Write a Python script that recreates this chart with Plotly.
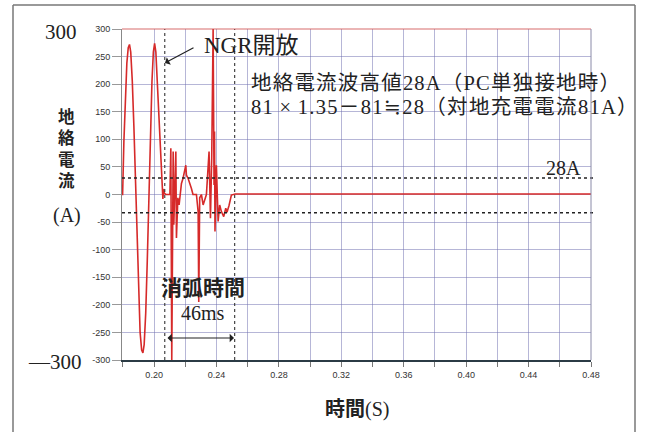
import plotly.graph_objects as go

# ---- data ----
time_s = [0.1794, 0.1798, 0.1806, 0.1815, 0.1825, 0.1834, 0.1842, 0.1850, 0.1860, 0.1870,
          0.1880, 0.1890, 0.1900, 0.1910, 0.1920, 0.1928, 0.1936, 0.1946, 0.1956, 0.1966,
          0.1976, 0.1986, 0.1995, 0.2003, 0.2011, 0.2022, 0.2033, 0.2042, 0.2050, 0.2056,
          0.2061, 0.2066, 0.2075, 0.2101, 0.2107, 0.2113, 0.2122, 0.2126, 0.2132, 0.2139,
          0.2143, 0.2152, 0.2160, 0.2175, 0.2185, 0.2196, 0.2203, 0.2207, 0.2218, 0.2239,
          0.2249, 0.2271, 0.2282, 0.2286, 0.2292, 0.2303, 0.2314, 0.2335, 0.2352, 0.2361,
          0.2369, 0.2378, 0.2384, 0.2387, 0.2390, 0.2399, 0.2410, 0.2420, 0.2431, 0.2446,
          0.2459, 0.2467, 0.2480, 0.2495, 0.2520, 0.3000, 0.3600, 0.4200, 0.4800]
current_a = [0, 0, 95, 180, 238, 266, 272, 258, 205, 125,
             30, -85, -185, -250, -282, -287, -272, -215, -120, -5,
             110, 205, 258, 274, 258, 195, 125, 60, 14, -8,
             10, 2, 0, 0, 84, -300, 78, -55, 5, 78,
             -79, -6, -19, 20, 29, 42, 53, 35, 29, 11,
             0, 0, -31, -195, -6, 0, -19, 0, 78, -43,
             66, 300, 17, 114, -67, 53, -49, -19, -31, -40,
             -25, -32, -20, -1, 1, 1, 1, 1, 1]

ref_levels = [30, -33]              # dotted reference lines (28A)
arc_start, arc_end = 0.2068, 0.2516  # 消弧時間 46ms

x_ticks = [0.18, 0.20, 0.22, 0.24, 0.26, 0.28, 0.30, 0.32, 0.34, 0.36, 0.38, 0.40, 0.42, 0.44, 0.46, 0.48]
x_labels = ["", "0.20", "", "0.24", "", "0.28", "", "0.32", "", "0.36", "", "0.40", "", "0.44", "", "0.48"]
y_ticks = [-300, -250, -200, -150, -100, -50, 0, 50, 100, 150, 200, 250, 300]
y_labels = ["-300", "-250", "-200", "-150", "-100", "-50", "0", "50", "100", "150", "200", "250", "300"]

W, H = 645, 432
L, R, T, B = 122, 54, 29, 72
PW, PH = W - L - R, H - T - B

def px(x):
    return (x - L) / PW

def py(y):
    return (H - B - y) / PH

SERIF = "Liberation Serif, Noto Sans CJK JP, DejaVu Serif"
GOTH = "Noto Sans CJK JP"
GOTH_STACK = "Liberation Sans, Noto Sans CJK JP"
GRID = "rgba(110,110,175,0.5)"

fig = go.Figure()
fig.add_trace(go.Scatter(x=time_s, y=current_a, mode="lines",
                         line=dict(color="#d62a2a", width=1.6), hoverinfo="skip",
                         showlegend=False))

shapes = []
for lv in ref_levels:
    shapes.append(dict(type="line", xref="paper", yref="y", x0=0, x1=px(595), y0=lv, y1=lv,
                       line=dict(color="#222", width=1.5, dash="dot")))
for tv in (arc_start, arc_end):
    shapes.append(dict(type="line", xref="x", yref="paper", x0=tv, x1=tv, y0=0, y1=1,
                       line=dict(color="#444", width=1.2, dash="dot")))
shapes.append(dict(type="line", xref="paper", yref="paper", x0=0, x1=1, y0=1, y1=1,
                   line=dict(color="rgba(205,70,70,0.8)", width=1.2)))
shapes.append(dict(type="line", xref="paper", yref="paper", x0=1, x1=1, y0=0, y1=1,
                   line=dict(color="#8a8aa8", width=1)))
frame = dict(color="#777", width=1.5)
shapes.append(dict(type="line", xref="paper", yref="paper", x0=px(13), x1=px(635), y0=py(5), y1=py(5), line=frame))
shapes.append(dict(type="line", xref="paper", yref="paper", x0=px(13), x1=px(13), y0=py(5), y1=py(440), line=frame))
shapes.append(dict(type="line", xref="paper", yref="paper", x0=px(635), x1=px(635), y0=py(5), y1=py(440), line=frame))

ann = []
def text(x, y, s, size, family=SERIF, xanchor="center", color="#222"):
    ann.append(dict(x=px(x), y=py(y), xref="paper", yref="paper", text=s, showarrow=False,
                    xanchor=xanchor, yanchor="middle",
                    font=dict(size=size, family=family, color=color)))

text(79, 32, "300", 21, xanchor="right")
text(84, 362, "—300", 21, xanchor="right")
text(66, 149, "<b>地<br>絡<br>電<br>流</b>", 16.5, family=GOTH_STACK)
text(67, 215, "(A)", 20)
text(202, 45, "NGR開放", 23, xanchor="left")
text(249, 83, '<span style="letter-spacing:1.2px">地絡電流波高値28A（PC単独接地時）</span>',
     20.5, xanchor="left")
text(249, 107, '<span style="letter-spacing:1.3px">81\u2009×\u20091.35－81≒28（対地充電電流81A）</span>',
     20.5, xanchor="left")
text(583, 168, "28A", 20, xanchor="right")
text(203, 286, "<b>消弧時間</b>", 21, family=GOTH)
text(203, 313, "46ms", 20)
text(357, 409, "<b>時間</b>(S)", 20)

ann.append(dict(x=px(165), y=py(63), xref="paper", yref="paper", ax=30, ay=-16, text="",
                showarrow=True, arrowhead=1, arrowsize=1.2, arrowwidth=1.2, arrowcolor="#222"))
ann.append(dict(x=px(234), y=py(338), xref="paper", yref="paper", ax=-68, ay=0, text="",
                showarrow=True, arrowhead=1, startarrowhead=1, arrowside="end+start",
                arrowsize=1.2, arrowwidth=1.2, arrowcolor="#222"))

fig.update_layout(
    width=W, height=H, margin=dict(l=L, r=R, t=T, b=B),
    paper_bgcolor="white", plot_bgcolor="white",
    shapes=shapes, annotations=ann,
    xaxis=dict(range=[0.1794, 0.48], tickvals=x_ticks, ticktext=x_labels,
               showgrid=True, gridcolor=GRID, gridwidth=1, zeroline=False,
               ticks="outside", ticklen=5, tickcolor="#777",
               tickfont=dict(size=9, family="Liberation Sans, Arial", color="#333"),
               showline=True, linecolor="#2b3b45", linewidth=2),
    yaxis=dict(range=[-300, 300], tickvals=y_ticks, ticktext=y_labels,
               showgrid=True, gridcolor=GRID, gridwidth=1, zeroline=False,
               ticks="outside", ticklen=9, tickcolor="#999",
               tickfont=dict(size=9, family="Liberation Sans, Arial", color="#333"),
               showline=True, linecolor="#888", linewidth=1),
)

fig.write_html("out.html", config={"displayModeBar": False},
               post_script="document.body.style.margin='0';document.body.style.overflow='hidden';")
